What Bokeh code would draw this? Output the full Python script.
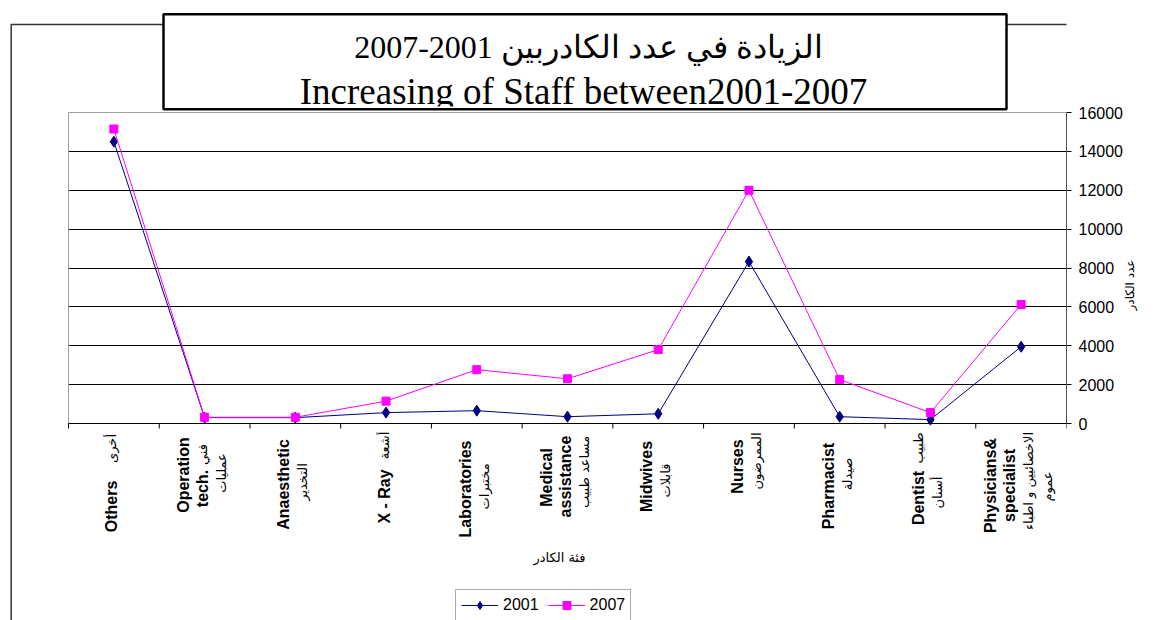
from math import pi
from bokeh.plotting import figure
from bokeh.models import (Range1d, LinearAxis, FixedTicker, Grid, Label, BoxAnnotation,
                          ColumnDataSource)
from bokeh.core.properties import value
from bokeh.embed import file_html
from bokeh.resources import INLINE

# ---------------- data ----------------
categories = ["Others", "Operation tech.", "Anaesthetic", "X - Ray", "Laboratories",
              "Medical assistance", "Midwives", "Nurses", "Pharmacist", "Dentist",
              "Physicians& specialist"]
staff_2001 = [14500, 300, 300, 560, 660, 350, 500, 8330, 350, 200, 3950]
staff_2007 = [15150, 320, 320, 1150, 2770, 2300, 3800, 12000, 2260, 560, 6120]
y_ticks = [0, 2000, 4000, 6000, 8000, 10000, 12000, 14000, 16000]

# category label text: per category, lines; each line = segments (text, kind) b=bold english, a=arabic
tick_label_lines = [
    [[("Others", "b"), ("أخرى", "a")]],
    [[("Operation", "b")], [("tech.", "b"), ("فني", "a")], [("عمليات", "a")]],
    [[("Anaesthetic", "b")], [("التخدير", "a")]],
    [[("X - Ray", "b"), ("أشعة", "a")]],
    [[("Laboratories", "b")], [("مختبرات", "a")]],
    [[("Medical", "b")], [("assistance", "b")], [("مساعد طبيب", "a")]],
    [[("Midwives", "b")], [("قابلات", "a")]],
    [[("Nurses", "b")], [("الممرضون", "a")]],
    [[("Pharmacist", "b")], [("صيدلة", "a")]],
    [[("Dentist", "b"), ("طبيب", "a")], [("أسنان", "a")]],
    [[("Physicians&", "b")], [("specialist", "b")], [("الاخصائيين و اطباء", "a")], [("عموم", "a")]],
]
# layout: vertical centre (page px) of every segment above
tick_label_y = [
    [[506, 448]],
    [[474.5], [488, 454], [472.5]],
    [[484], [481.5]],
    [[496, 445]],
    [[488.5], [486]],
    [[477], [476], [471.5]],
    [[476], [480]],
    [[466], [460.5]],
    [[485.5], [473.5]],
    [[497.5, 447.5], [492]],
    [[485], [485], [480.5], [486]],
]

title_ar = "2007-2001 الزيادة في عدد الكادربين"
title_en = "Increasing of Staff between2001-2007"
x_title = "فئة الكادر"
y_title = "عدد الكادر"

# ---------------- layout (page px) ----------------
W, H = 1160, 620
FL, FR, FT, FB = 68, 1066, 112, 423       # plot area
N = len(categories)
YMAX = y_ticks[-1]


def xd(X):  # page px -> category coordinate (category i spans i..i+1)
    return (X - FL) * N / (FR - FL)


def yd(Y):  # page px -> data value
    return (FB - Y) * YMAX / (FB - FT)


x_pos = [i + 0.5 for i in range(N)]        # category centres

p = figure(width=W, height=H, output_backend="svg", toolbar_location=None,
           x_range=Range1d(xd(0), N), y_range=Range1d(yd(H), yd(0)),
           x_axis_location=None, y_axis_location=None,
           min_border_left=0, min_border_right=W - FR, min_border_top=0,
           min_border_bottom=0, outline_line_color=None,
           background_fill_color="white", border_fill_color="white")
p.center = [r for r in p.center if not isinstance(r, Grid)]

# ---------------- grid ----------------
try:
    p.add_layout(Grid(dimension=1, ticker=FixedTicker(ticks=y_ticks[1:-1]),
                      cross_bounds=(0, N), grid_line_color="black", grid_line_width=1))
except AttributeError:
    p.segment(x0=0, x1=N, y0=y_ticks[1:-1], y1=y_ticks[1:-1], line_color="black",
              line_width=1)

# ---------------- y axis (right) ----------------
yaxis = LinearAxis(ticker=FixedTicker(ticks=y_ticks), bounds=(0, YMAX),
                   major_tick_in=0, major_tick_out=5,
                   minor_tick_line_color=None, axis_line_color="black",
                   major_tick_line_color="black", major_label_text_color="black",
                   major_label_text_font="Liberation Sans",
                   major_label_text_font_size="16px", major_label_standoff=7,
                   axis_label=y_title, axis_label_text_font="DejaVu Sans",
                   axis_label_text_font_size="12px", axis_label_text_font_style="normal",
                   axis_label_text_color="black", axis_label_standoff=4)
try:
    yaxis.axis_label_orientation = pi / 2
except AttributeError:
    pass
p.add_layout(yaxis, "right")

# ---------------- x axis: boundary ticks ----------------
tick_len = 5 * YMAX / (FB - FT)
bounds = list(range(N + 1))
p.segment(x0=bounds, x1=bounds, y0=0, y1=-tick_len, line_color="black", line_width=1)

# ---------------- series ----------------
p.line(x_pos, staff_2001, line_color="#000080", line_width=1, legend_label="2001")
p.scatter(x_pos, staff_2001, marker="diamond", size=11, color="#000080",
          legend_label="2001")
p.line(x_pos, staff_2007, line_color="#FF00FF", line_width=1, legend_label="2007")
p.scatter(x_pos, staff_2007, marker="square", size=8, color="#FF00FF",
          legend_label="2007")

# ---------------- category labels (vertical, reading upward) ----------------
seg = {"b": dict(x=[], y=[], t=[], xo=[]), "a": dict(x=[], y=[], t=[], xo=[])}
for i, (lines, ys) in enumerate(zip(tick_label_lines, tick_label_y)):
    n = len(lines)
    for k, (segs, segy) in enumerate(zip(lines, ys)):
        xoff = (k - (n - 1) / 2) * 19 - 2
        for (txt, kind), yc in zip(segs, segy):
            d = seg[kind]
            d["x"].append(x_pos[i]); d["y"].append(yd(yc))
            d["t"].append(txt); d["xo"].append(xoff)

p.text(x="x", y="y", text="t", x_offset="xo", source=ColumnDataSource(seg["b"]),
       angle=pi / 2, text_align="center", text_baseline="alphabetic",
       text_font=value("Liberation Sans"), text_font_size="16px",
       text_font_style="bold", text_color="black")
p.text(x="x", y="y", text="t", x_offset="xo", source=ColumnDataSource(seg["a"]),
       angle=pi / 2, text_align="center", text_baseline="alphabetic",
       text_font=value("DejaVu Sans"), text_font_size="13px",
       text_font_style="normal", text_color="black")

# ---------------- plot-area frame ----------------
p.add_layout(BoxAnnotation(left=0, right=N, top=YMAX, bottom=0, fill_alpha=0,
                           line_color="#a0a0a0", line_alpha=1, line_width=1))
p.add_layout(BoxAnnotation(left=0, right=N, top=0, bottom=0, fill_alpha=0,
                           line_color="black", line_alpha=1, line_width=1))

p.add_layout(Label(x=xd(559), y=yd(557), text=x_title, text_align="center",
                   text_baseline="middle", text_font="DejaVu Sans",
                   text_font_size="13px", text_color="black"))

# ---------------- chart border + title box ----------------
def box(l, r, t, b, **kw):
    return BoxAnnotation(left=xd(l), right=xd(r), top=yd(t), bottom=yd(b), **kw)


p.add_layout(box(10.7, 1300, 24, 800, fill_alpha=0, line_color="#333333",
                 line_alpha=1, line_width=1.5))
p.add_layout(box(163, 1006, 13.7, 108.7, fill_color="white", fill_alpha=1,
                 line_alpha=0))
p.add_layout(Label(x=xd(588), y=yd(46), text=title_ar, text_align="center",
                   text_baseline="middle", text_font="Liberation Serif",
                   text_font_size="32px", text_color="black"))
p.add_layout(Label(x=xd(583), y=yd(91), text=title_en, text_align="center",
                   text_baseline="middle", text_font="Liberation Serif",
                   text_font_size="37px", text_color="black"))
p.add_layout(box(165, 1004, 106, 111.4, fill_color="white", fill_alpha=1, line_alpha=0))
p.add_layout(box(163, 1006, 13.7, 108.7, fill_alpha=0, line_color="black",
                 line_alpha=1, line_width=2.5))

# ---------------- legend ----------------
lg = p.legend[0]
lg.orientation = "horizontal"
lg.location = (455, H - 591 - 30)
lg.label_text_font = "Liberation Sans"
lg.label_text_font_size = "16px"
lg.label_text_color = "black"
lg.glyph_width = 37
lg.glyph_height = 20
lg.label_height = 20
lg.label_standoff = 5
lg.spacing = 9
lg.padding = 5
lg.margin = 0
lg.border_line_color = "#555555"
lg.border_line_width = 1
lg.background_fill_color = "white"
lg.background_fill_alpha = 1

open("out.html", "w").write(file_html(p, INLINE))
